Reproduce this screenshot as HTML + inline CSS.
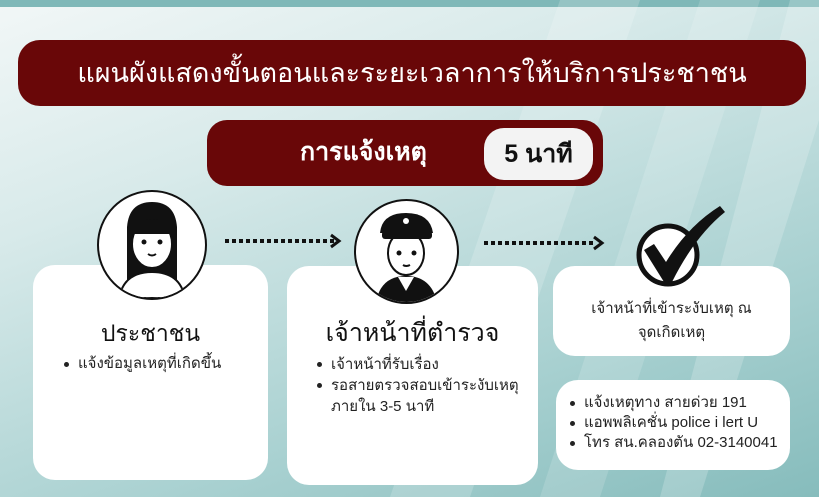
<!DOCTYPE html>
<html><head><meta charset="utf-8"><style>
*{margin:0;padding:0;box-sizing:border-box}
body{width:819px;height:497px;overflow:hidden;position:relative;font-family:"Liberation Sans","Noto Sans CJK SC",sans-serif;
background:linear-gradient(160deg,#f2f7f7 0%,#d8eaea 30%,#a9d1d1 70%,#86bcbc 100%);}
.abs{position:absolute}
.bar{background:#690708;color:#fff;}
.card{position:absolute;background:#fff;border-radius:22px}
.c{position:absolute;border-radius:50%;background:#fff;border:2px solid #111}
ul{list-style:none}
li{position:relative;padding-left:16px}
li:before{content:"";position:absolute;left:2px;top:8px;width:5px;height:5px;border-radius:50%;background:#222}
</style></head><body>
<div class="abs" style="left:0;top:0;width:819px;height:7px;background:#7fb8b8"></div>
<svg class="abs" style="left:0;top:0" width="819" height="497">
<polygon points="560,0 640,0 470,497 390,497" fill="#ffffff" opacity="0.18"/>
<polygon points="700,0 760,0 600,497 540,497" fill="#ffffff" opacity="0.15"/>
<polygon points="790,0 819,0 819,120 700,497 660,497" fill="#ffffff" opacity="0.2"/>
</svg>
<div class="abs bar" style="left:18px;top:40px;width:788px;height:66px;border-radius:22px;font-size:27px;line-height:66px;text-align:center">แผนผังแสดงขั้นตอนและระยะเวลาการให้บริการประชาชน</div>
<div class="abs bar" style="left:207px;top:120px;width:396px;height:66px;border-radius:20px;"></div>
<div class="abs" style="left:300px;top:120px;height:66px;line-height:64px;color:#fff;font-weight:bold;font-size:25px">การแจ้งเหตุ</div>
<div class="abs" style="left:484px;top:128px;width:109px;height:52px;border-radius:20px;background:#f3f3f3;text-align:center;line-height:52px;font-weight:bold;font-size:25px;color:#111">5 นาที</div>

<div class="card" style="left:33px;top:265px;width:235px;height:215px"></div>
<div class="card" style="left:287px;top:266px;width:251px;height:219px"></div>
<div class="card" style="left:553px;top:266px;width:237px;height:90px"></div>
<div class="card" style="left:556px;top:380px;width:234px;height:90px"></div>

<div class="c" style="left:97px;top:190px;width:110px;height:110px;overflow:hidden">
<svg width="106" height="106" viewBox="0 0 106 106">
<path d="M28,90 L28,35 Q30,10 53,10 Q76,10 78,35 L78,90 Z" fill="#111"/>
<ellipse cx="53" cy="52" rx="20" ry="24" fill="#fff" stroke="#111" stroke-width="2"/>
<rect x="33" y="28" width="40" height="14" fill="#111"/>
<circle cx="45" cy="50" r="2.5" fill="#111"/><circle cx="61" cy="50" r="2.5" fill="#111"/>
<path d="M49,62 Q53,65 57,62" stroke="#111" fill="none" stroke-width="2"/>
<path d="M20,106 Q25,80 53,80 Q81,80 86,106 Z" fill="#fff" stroke="#111" stroke-width="2"/>
</svg></div>
<div class="c" style="left:354px;top:199px;width:105px;height:105px;overflow:hidden">
<svg width="101" height="101" viewBox="0 0 101 101">
<path d="M20,101 Q25,75 50,75 Q75,75 81,101 Z" fill="#111"/>
<path d="M42,76 L50,90 L58,76 Z" fill="#fff"/>
<ellipse cx="50" cy="52" rx="18" ry="22" fill="#fff" stroke="#111" stroke-width="2"/>
<path d="M24,32 Q26,12 50,12 Q74,12 77,32 Z" fill="#111"/>
<rect x="26" y="30" width="50" height="8" rx="3" fill="#111"/>
<circle cx="50" cy="20" r="3" fill="#fff"/>
<circle cx="43" cy="52" r="2.5" fill="#111"/><circle cx="58" cy="52" r="2.5" fill="#111"/>
<path d="M47,64 Q50,66 54,64" stroke="#111" fill="none" stroke-width="2"/>
</svg></div>
<svg class="abs" style="left:630px;top:200px" width="100" height="90">
<circle cx="38" cy="55" r="29" fill="#fff" stroke="#111" stroke-width="5"/>
<path d="M14,50 L24,44 L36,62 Q58,26 90,6 L95,12 Q65,36 42,82 L34,82 Z" fill="#111"/>
</svg>
<svg class="abs" style="left:0;top:0" width="819" height="497">
<line x1="225" y1="241" x2="334" y2="241" stroke="#111" stroke-width="4" stroke-dasharray="4,3"/>
<path d="M331,235 L339,241 L331,247" stroke="#111" stroke-width="3" fill="none"/>
<line x1="484" y1="243" x2="596" y2="243" stroke="#111" stroke-width="4" stroke-dasharray="4,3"/>
<path d="M594,237 L602,243 L594,249" stroke="#111" stroke-width="3" fill="none"/>
</svg>

<div class="abs" style="left:33px;top:316px;width:235px;text-align:center;font-size:23px;color:#111">ประชาชน</div>
<ul class="abs" style="left:62px;top:354px;font-size:15px;color:#222;line-height:20px"><li>แจ้งข้อมูลเหตุที่เกิดขึ้น</li></ul>
<div class="abs" style="left:287px;top:313px;width:251px;text-align:center;font-size:25px;color:#111">เจ้าหน้าที่ตำรวจ</div>
<ul class="abs" style="left:315px;top:354px;width:220px;font-size:15px;color:#222;line-height:21px"><li>เจ้าหน้าที่รับเรื่อง</li><li>รอสายตรวจสอบเข้าระงับเหตุภายใน 3-5 นาที</li></ul>
<div class="abs" style="left:553px;top:297px;width:237px;text-align:center;font-size:15px;color:#222;line-height:24px">เจ้าหน้าที่เข้าระงับเหตุ ณ<br>จุดเกิดเหตุ</div>
<ul class="abs" style="left:568px;top:393px;font-size:15px;color:#222;line-height:20px"><li>แจ้งเหตุทาง สายด่วย 191</li><li>แอพพลิเคชั่น police i lert U</li><li>โทร สน.คลองตัน 02-3140041</li></ul>
</body></html>
